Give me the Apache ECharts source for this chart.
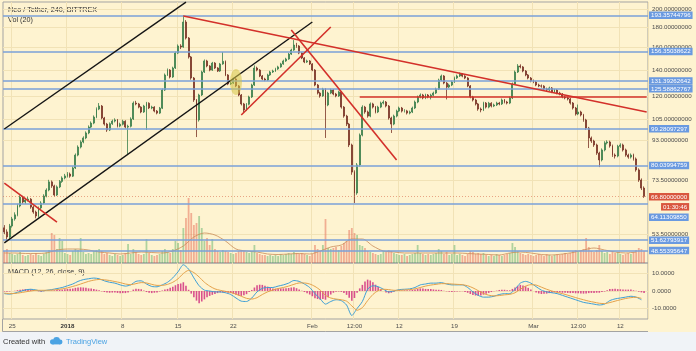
<!DOCTYPE html>
<html>
<head>
<meta charset="utf-8">
<script src="https://cdn.jsdelivr.net/npm/echarts@6/dist/echarts.min.js"></script>
<style>
  html, body { margin: 0; padding: 0; background: #fff; }
  #chart { width: 696px; height: 351px; }
</style>
</head>
<body>
<div id="chart"></div>
<script>
const opens = [
  55.5, 54.2, 52.6, 56.1, 58.5, 59.9, 63.1, 66.5, 64.6, 65.4,
  65.7, 62.7, 60.9, 59.5, 62.4, 64.2, 66.9, 69.3, 72.7, 71.0,
  67.3, 70.6, 72.9, 74.4, 75.3, 76.1, 75.2, 78.9, 85.1, 89.2,
  91.9, 94.1, 96.9, 100.3, 102.7, 106.4, 111.5, 113.5, 105.8, 102.1,
  98.6, 102.3, 103.9, 104.6, 100.9, 102.0, 103.8, 100.3, 100.8, 105.2,
  115.5, 114.9, 112.8, 109.6, 113.5, 115.4, 112.2, 112.8, 110.2, 108.9,
  112.1, 124.7, 136.2, 140.2, 134.6, 141.9, 154.9, 161.5, 160.5, 185.9,
  169.2, 151.4, 133.8, 117.6, 104.6, 121.1, 138.6, 147.9, 143.6, 140.2,
  146.1, 141.9, 139.4, 145.3, 147.6, 136.2, 129.2, 129.9, 133.0, 127.7,
  121.1, 114.9, 110.9, 114.7, 119.7, 128.4, 141.9, 140.2, 135.4, 133.0,
  132.2, 136.2, 138.6, 139.4, 141.1, 142.8, 145.3, 147.9, 149.6, 154.0,
  157.7, 162.4, 161.5, 154.9, 150.5, 147.0, 147.9, 145.3, 140.2, 128.4,
  122.5, 120.4, 125.4, 114.2, 122.5, 124.7, 121.8, 120.4, 123.3, 112.8,
  107.0, 102.1, 90.3, 77.0, 68.1, 80.3, 95.7, 112.8, 109.6, 107.0,
  114.9, 112.8, 109.6, 112.8, 115.5, 116.2, 113.5, 105.8, 102.1, 107.0,
  110.2, 112.2, 110.2, 110.3, 108.9, 109.6, 112.2, 116.2, 119.7, 121.1,
  119.0, 121.1, 119.7, 121.0, 122.5, 125.4, 132.2, 135.4, 129.9, 126.9,
  128.4, 130.7, 133.8, 135.4, 137.0, 135.3, 133.8, 127.7, 119.7, 117.6,
  114.9, 111.5, 110.9, 115.5, 112.8, 115.4, 113.5, 114.2, 115.5, 114.9,
  117.6, 116.2, 115.5, 119.0, 129.2, 138.6, 143.6, 142.8, 139.4, 136.2,
  133.8, 131.5, 130.7, 128.4, 127.7, 127.6, 125.4, 124.7, 126.2, 123.3,
  124.7, 122.5, 121.8, 119.7, 119.0, 118.3, 115.5, 112.2, 108.3, 109.6,
  107.7, 104.6, 99.7, 94.1, 92.4, 90.3, 86.1, 82.7, 87.7, 91.4,
  91.9, 89.8, 85.1, 84.6, 89.6, 90.3, 87.7, 85.1, 84.1, 85.1,
  83.2, 78.0, 73.5, 70.1
];
const closes = [
  54.2, 52.6, 56.1, 58.5, 59.9, 63.1, 66.5, 64.6, 65.4, 65.7,
  62.7, 60.9, 59.5, 62.4, 64.2, 66.9, 69.3, 72.7, 71.0, 67.3,
  70.6, 72.9, 74.4, 75.3, 76.1, 75.2, 78.9, 85.1, 89.2, 91.9,
  94.1, 96.9, 100.3, 102.7, 106.4, 111.5, 113.5, 105.8, 102.1, 98.6,
  102.3, 103.9, 104.6, 100.9, 102.0, 103.8, 100.3, 100.8, 105.2, 115.5,
  114.9, 112.8, 109.6, 113.5, 115.4, 112.2, 112.8, 110.2, 108.9, 112.1,
  124.7, 136.2, 140.2, 134.6, 141.9, 154.9, 161.5, 160.5, 185.9, 169.2,
  151.4, 133.8, 117.6, 104.6, 121.1, 138.6, 147.9, 143.6, 140.2, 146.1,
  141.9, 139.4, 145.3, 147.6, 136.2, 129.2, 129.9, 133.0, 127.7, 121.1,
  114.9, 110.9, 114.7, 119.7, 128.4, 141.9, 140.2, 135.4, 133.0, 132.2,
  136.2, 138.6, 139.4, 141.1, 142.8, 145.3, 147.9, 149.6, 154.0, 157.7,
  162.4, 161.5, 154.9, 150.5, 147.0, 147.9, 145.3, 140.2, 128.4, 122.5,
  120.4, 125.4, 114.2, 122.5, 124.7, 121.8, 120.4, 123.3, 112.8, 107.0,
  102.1, 90.3, 77.0, 68.1, 80.3, 95.7, 112.8, 109.6, 107.0, 114.9,
  112.8, 109.6, 112.8, 115.5, 116.2, 113.5, 105.8, 102.1, 107.0, 110.2,
  112.2, 110.2, 110.3, 108.9, 109.6, 112.2, 116.2, 119.7, 121.1, 119.0,
  121.1, 119.7, 121.0, 122.5, 125.4, 132.2, 135.4, 129.9, 126.9, 128.4,
  130.7, 133.8, 135.4, 137.0, 135.3, 133.8, 127.7, 119.7, 117.6, 114.9,
  111.5, 110.9, 115.5, 112.8, 115.4, 113.5, 114.2, 115.5, 114.9, 117.6,
  116.2, 115.5, 119.0, 129.2, 138.6, 143.6, 142.8, 139.4, 136.2, 133.8,
  131.5, 130.7, 128.4, 127.7, 127.6, 125.4, 124.7, 126.2, 123.3, 124.7,
  122.5, 121.8, 119.7, 119.0, 118.3, 115.5, 112.2, 108.3, 109.6, 107.7,
  104.6, 99.7, 94.1, 92.4, 90.3, 86.1, 82.7, 87.7, 91.4, 91.9,
  89.8, 85.1, 84.6, 89.6, 90.3, 87.7, 85.1, 84.1, 85.1, 83.2,
  78.0, 73.5, 70.1, 66.8
];
const highs = [
  56.4, 55.0, 56.8, 59.2, 60.8, 63.9, 67.2, 67.0, 66.2, 66.6,
  66.1, 63.2, 61.4, 62.9, 64.9, 67.6, 70.0, 73.6, 73.3, 71.5,
  71.2, 73.5, 75.1, 76.2, 77.0, 76.8, 79.6, 85.9, 90.1, 92.8,
  95.0, 97.8, 101.3, 103.7, 107.4, 112.6, 115.5, 114.2, 106.5, 102.8,
  103.1, 104.8, 105.6, 105.2, 102.9, 104.7, 104.4, 101.7, 106.2, 116.6,
  117.0, 115.6, 113.4, 114.3, 116.3, 116.0, 113.7, 113.4, 110.9, 112.9,
  125.8, 137.4, 141.5, 141.0, 143.0, 156.3, 163.0, 163.2, 193.4, 188.0,
  170.2, 152.3, 134.6, 118.3, 122.0, 139.7, 149.2, 148.9, 144.3, 147.1,
  146.9, 142.6, 146.2, 155.9, 148.3, 136.9, 131.0, 134.0, 133.7, 128.4,
  121.8, 115.6, 115.5, 120.6, 129.4, 144.1, 143.0, 141.0, 136.2, 134.0,
  137.2, 139.6, 140.5, 142.1, 143.8, 146.3, 149.0, 150.7, 155.1, 158.9,
  167.2, 164.5, 162.3, 155.6, 151.3, 149.0, 148.7, 146.0, 141.0, 129.2,
  123.4, 126.3, 126.1, 123.4, 125.7, 125.4, 122.6, 124.2, 124.0, 113.5,
  107.8, 102.8, 91.0, 77.8, 81.2, 96.6, 114.0, 113.6, 110.5, 115.9,
  115.7, 113.5, 113.7, 116.5, 117.4, 116.9, 114.2, 106.6, 107.9, 111.1,
  113.1, 112.9, 111.4, 111.0, 110.5, 113.1, 117.2, 120.7, 122.2, 121.9,
  122.0, 121.8, 122.0, 123.5, 126.4, 133.3, 136.5, 136.1, 130.7, 129.4,
  131.7, 134.9, 136.5, 138.2, 137.8, 136.1, 134.5, 128.4, 120.5, 118.4,
  115.6, 112.5, 116.4, 116.2, 116.3, 116.1, 115.1, 116.4, 116.3, 118.6,
  118.3, 117.0, 120.0, 130.3, 139.8, 145.2, 145.0, 143.6, 140.2, 137.0,
  134.6, 132.6, 131.5, 129.4, 128.8, 128.3, 126.4, 127.2, 126.9, 125.6,
  125.4, 123.4, 122.5, 120.7, 119.9, 119.0, 116.2, 112.9, 114.5, 110.4,
  108.4, 105.3, 100.4, 94.9, 93.1, 91.0, 86.8, 88.5, 92.3, 92.8,
  92.6, 90.5, 85.9, 90.4, 91.2, 91.0, 88.4, 85.8, 85.9, 85.8,
  83.9, 78.7, 74.2, 70.8
];
const lows = [
  53.5, 51.5, 52.2, 55.6, 57.9, 59.4, 62.6, 64.0, 63.9, 64.8,
  62.1, 60.3, 58.7, 59.0, 61.9, 63.8, 66.4, 68.8, 70.2, 66.7,
  66.9, 70.1, 72.3, 73.8, 74.6, 74.5, 74.8, 78.4, 84.5, 88.5,
  91.2, 93.4, 96.2, 99.6, 102.0, 105.7, 110.8, 105.0, 101.2, 97.5,
  98.0, 101.6, 103.1, 100.1, 100.2, 101.3, 99.5, 85.1, 100.1, 104.6,
  114.0, 112.0, 108.8, 109.0, 98.6, 111.5, 111.4, 109.4, 108.1, 108.3,
  111.5, 124.0, 135.4, 133.5, 133.9, 141.1, 154.0, 158.6, 159.8, 167.8,
  150.0, 132.5, 116.3, 94.6, 103.6, 120.4, 137.8, 142.5, 139.2, 139.5,
  141.0, 138.6, 138.7, 144.6, 135.3, 128.3, 128.5, 129.2, 126.8, 120.2,
  113.9, 108.9, 110.2, 114.0, 119.0, 127.7, 139.2, 134.5, 132.1, 131.3,
  131.5, 135.5, 137.8, 138.7, 140.3, 142.1, 144.6, 147.1, 148.9, 153.2,
  156.9, 159.8, 153.9, 149.5, 146.0, 146.2, 144.4, 139.3, 127.5, 121.5,
  119.2, 119.8, 94.1, 113.4, 121.7, 120.9, 119.5, 119.7, 111.8, 106.0,
  100.9, 89.2, 75.8, 64.2, 67.4, 79.5, 95.0, 108.5, 106.0, 106.3,
  111.9, 108.7, 108.9, 112.1, 114.6, 112.6, 104.8, 96.9, 101.4, 106.2,
  109.5, 109.3, 109.3, 108.0, 108.1, 108.9, 111.5, 115.4, 118.8, 118.1,
  118.2, 118.8, 118.0, 120.2, 121.8, 124.7, 131.4, 129.0, 118.0, 126.1,
  127.6, 130.0, 133.0, 134.6, 134.4, 132.9, 126.8, 118.8, 116.6, 113.9,
  110.4, 109.4, 110.2, 111.9, 112.0, 112.6, 112.8, 113.5, 114.0, 114.2,
  115.3, 114.6, 114.8, 118.3, 128.5, 137.8, 141.6, 138.4, 135.2, 132.8,
  130.5, 129.8, 127.5, 126.8, 126.4, 124.5, 123.8, 124.0, 122.4, 122.6,
  121.6, 120.9, 118.8, 118.1, 117.3, 114.5, 111.2, 107.3, 107.6, 106.8,
  103.5, 98.6, 88.7, 91.4, 89.3, 85.2, 79.3, 82.0, 87.0, 90.6,
  88.9, 84.2, 83.4, 84.0, 88.8, 86.9, 84.3, 83.3, 83.4, 82.4,
  77.2, 72.7, 69.3, 66.2
];
// volume, relative units (no scale shown on the shot)
const volumes = [
  12, 14, 10, 9, 8, 9, 11, 8, 7, 8,
  9, 8, 10, 8, 7, 9, 11, 13, 30, 28,
  14, 25, 22, 10, 9, 8, 12, 14, 13, 25,
  11, 9, 10, 9, 12, 13, 14, 12, 9, 10,
  8, 7, 9, 8, 7, 8, 10, 19, 9, 14,
  11, 9, 8, 9, 24, 10, 8, 7, 8, 9,
  12, 14, 11, 10, 14, 22, 20, 13, 35, 45,
  65, 50, 38, 40, 47, 35, 22, 25, 18, 24,
  14, 12, 11, 13, 12, 11, 10, 9, 10, 12,
  13, 12, 11, 10, 12, 18, 10, 9, 8, 8,
  7, 8, 7, 8, 7, 9, 8, 9, 10, 9,
  11, 10, 9, 10, 9, 8, 7, 9, 18, 14,
  12, 18, 44, 15, 14, 15, 16, 13, 17, 20,
  22, 33, 35, 30, 28, 18, 17, 15, 12, 11,
  10, 9, 8, 9, 12, 11, 13, 12, 10, 9,
  8, 8, 9, 7, 8, 9, 10, 18, 10, 9,
  8, 9, 8, 9, 10, 14, 12, 9, 11, 8,
  9, 18, 8, 9, 8, 7, 9, 12, 11, 9,
  10, 9, 10, 8, 7, 8, 7, 9, 8, 7,
  8, 9, 10, 20, 16, 12, 10, 9, 8, 9,
  8, 7, 8, 9, 8, 7, 9, 8, 7, 8,
  9, 8, 9, 10, 9, 10, 12, 13, 11, 12,
  14, 25, 16, 12, 11, 13, 18, 12, 10, 11,
  9, 12, 10, 11, 9, 8, 9, 10, 9, 11,
  13, 15, 14, 12
];
// Vol(20) average, one reading every 4th candle
const volMa = [
  10, 10, 9.5, 9.5, 10, 13, 14, 14, 13, 11,
  10, 9, 10, 11, 10.5, 10, 12, 17, 26, 30,
  28, 22, 14, 12, 11, 9, 8.5, 9, 9.5, 9,
  12, 16, 18, 24, 24, 17, 12, 11, 10, 10,
  10, 10, 10, 10, 9.5, 9, 8.5, 8, 10, 11,
  10, 8.5, 8, 9, 10.5, 13, 15, 13, 11, 10,
  11
];
// MACD(12,26,9): line and signal read every 2nd candle, histogram every candle
const macdLine = [
  -1.5, -1.8, -1.2, -0.3, 0.6, 1.0, 0.6, 0.0, 0.4, 0.8,
  1.4, 2.0, 3.0, 4.0, 5.5, 6.5, 7.0, 7.4, 7.0, 5.8,
  5.0, 4.5, 3.5, 2.8, 3.5, 5.5, 5.8, 4.0, 2.6, 2.4,
  3.5, 5.0, 7.5, 11.0, 15.0, 12.5, 7.5, 3.0, 0.5, 0.0,
  -0.5, -0.5, -1.0, -2.0, -4.0, -5.8, -6.0, -4.0, -0.5, 1.5,
  2.0, 2.0, 2.8, 3.5, 4.5, 6.0, 5.5, 4.0, 2.0, -1.5,
  -4.5, -7.5, -6.0, -5.0, -5.5, -8.0, -14.0, -10.0, -6.0, 1.0,
  3.0, 2.5, 1.0, -0.5, 0.0, 0.8, 1.0, 1.2, 2.0, 3.5,
  4.0, 4.5, 4.5, 4.8, 4.0, 3.5, 3.5, 3.5, 2.0, -0.5,
  -2.5, -3.5, -3.5, -3.0, -2.0, -1.5, -1.5, 1.0, 4.5, 5.5,
  4.5, 2.5, 0.5, -0.5, -1.0, -1.5, -2.5, -3.5, -4.5, -5.5,
  -6.5, -7.0, -7.5, -8.0, -7.5, -5.5, -4.5, -4.0, -3.5, -3.0,
  -3.5, -5.0
];
const signalLine = [
  -1.2, -1.5, -1.4, -1.0, -0.5, 0.0, 0.4, 0.4, 0.4, 0.5,
  0.8, 1.2, 1.8, 2.6, 3.5, 4.5, 5.5, 6.2, 6.6, 6.4,
  6.0, 5.4, 4.8, 4.0, 3.6, 4.2, 4.8, 4.6, 3.8, 3.2,
  3.2, 3.8, 5.0, 7.0, 10.0, 11.8, 10.5, 8.0, 5.0, 2.8,
  1.2, 0.4, -0.2, -0.8, -1.8, -3.0, -4.2, -4.6, -3.8, -2.0,
  -0.5, 0.6, 1.4, 2.0, 2.8, 3.8, 4.6, 4.6, 4.0, 2.6,
  0.5, -2.5, -4.0, -4.6, -5.0, -5.8, -8.5, -11.0, -9.5, -5.5,
  -2.0, 0.2, 1.0, 0.8, 0.4, 0.4, 0.6, 0.8, 1.2, 2.0,
  2.8, 3.4, 3.8, 4.2, 4.2, 4.0, 3.8, 3.6, 3.0, 1.8,
  0.2, -1.4, -2.4, -2.8, -2.6, -2.2, -1.9, -1.0, 1.0, 2.8,
  3.6, 3.4, 2.2, 1.0, 0.0, -0.8, -1.5, -2.4, -3.3, -4.2,
  -5.0, -5.8, -6.4, -7.0, -7.2, -6.6, -5.8, -5.0, -4.3, -3.8,
  -3.6, -4.2
];
const macdHist = [
  -0.3, -0.4, -0.3, 0.0, 0.2, 0.5, 0.7, 0.9, 1.1, 1.1,
  1.0, 0.6, 0.2, -0.2, -0.4, -0.2, 0.0, 0.2, 0.3, 0.4,
  0.6, 0.7, 0.8, 1.0, 1.2, 1.3, 1.4, 1.8, 2.0, 2.1,
  2.0, 1.8, 1.5, 1.4, 1.2, 0.8, 0.4, -0.2, -0.6, -0.9,
  -1.0, -0.9, -0.9, -1.1, -1.3, -1.2, -1.2, -0.8, -0.1, 0.8,
  1.3, 1.2, 1.0, 0.3, -0.6, -1.0, -1.2, -1.0, -0.8, -0.3,
  0.3, 0.8, 1.2, 1.8, 2.5, 3.3, 4.0, 4.3, 5.0, 3.0,
  0.7, -1.5, -3.5, -5.5, -7.0, -6.0, -4.8, -3.6, -2.8, -2.2,
  -1.7, -1.2, -0.9, -0.8, -0.8, -1.0, -1.2, -1.6, -2.2, -2.6,
  -2.8, -2.4, -1.8, -0.6, 0.6, 2.0, 3.3, 3.6, 3.5, 3.0,
  2.5, 1.9, 1.4, 1.3, 1.4, 1.5, 1.5, 1.6, 1.7, 2.0,
  2.2, 1.6, 0.9, 0.2, -0.6, -1.3, -2.0, -3.0, -4.1, -4.6,
  -5.0, -4.6, -5.0, -3.5, -2.0, -1.0, -0.4, -0.3, -0.5, -1.2,
  -2.2, -3.8, -5.5, -4.0, -1.0, 1.5, 3.5, 5.5, 6.5, 6.0,
  5.0, 3.6, 2.3, 1.0, 0.0, -0.8, -1.3, -1.0, -0.4, 0.0,
  0.4, 0.3, 0.4, 0.5, 0.4, 0.6, 0.8, 1.2, 1.5, 1.4,
  1.2, 1.1, 1.1, 0.9, 0.7, 0.7, 0.6, 0.2, -0.2, -0.4,
  -0.5, -0.4, -0.3, -0.2, -0.1, -0.5, -1.0, -1.7, -2.3, -2.6,
  -2.7, -2.5, -2.1, -1.6, -1.1, -0.6, -0.2, 0.2, 0.6, 0.7,
  0.7, 0.5, 0.4, 1.2, 2.0, 2.8, 3.5, 3.2, 2.7, 1.8,
  0.9, 0.0, -0.9, -1.4, -1.7, -1.6, -1.5, -1.2, -1.0, -0.8,
  -0.7, -0.9, -1.0, -1.0, -1.1, -1.2, -1.2, -1.3, -1.3, -1.4,
  -1.5, -1.4, -1.2, -1.1, -1.1, -1.0, -1.0, -0.6, -0.3, 0.4,
  1.1, 1.2, 1.3, 1.1, 1.0, 0.9, 0.8, 0.8, 0.8, 0.4,
  0.1, -0.4, -0.8, -1.2
];

const priceLevels = [193.35744796, 156.35038622, 131.39262642, 125.58862767, 99.28097297,
  80.03994759, 64.11309850, 51.62793917, 48.55395647];
const priceTicks = [200, 180, 160, 140, 120, 105, 93, 73.5, 53.5];
const macdTicks = [-10, 0, 10];
const timeTickIndex = [3, 24, 45, 66, 87, 117, 133, 150, 171, 201, 218, 234];
const timeTickLabels = ['25', '2018', '8', '15', '22', 'Feb', '12:00', '12', '19', 'Mar', '12:00', '12'];
const lastPrice = 66.8;
const countdown = '01:30:46';
// drawings: [candle index, price] -> [candle index, price]
const blackLines = [
  [[-0.4, 99.2], [69.4, 209.0]],
  [[-0.4, 50.8], [117.2, 185.9]]
];
const redLines = [
  [[-0.4, 72.2], [20.4, 57.4]],
  [[67.9, 192.6], [244.4, 109.6]],
  [[135.1, 120.2], [244.4, 120.2]],
  [[108.5, 177.4], [149.1, 82.7]],
  [[90.3, 107.7], [123.7, 180.5]]
];
const highlight = [88, 130.7];

const slotCount = 245;
const categories = [];
for (let i = 0; i < slotCount; i++) {
  categories.push(new Date(Date.UTC(2017, 11, 24) + i * 8 * 3600 * 1000).toISOString().slice(0, 16));
}
const tickText = {};
timeTickIndex.forEach((idx, k) => { tickText[idx] = timeTickLabels[k]; });

const upColor = '#3b7f4b';
const downColor = '#7a3326';
const gridLine = '#f1e2b6';
const frame = '#a3a3a3';
const font = '"Liberation Sans", Arial, sans-serif';
const levelBlue = '#7aa0d8';
const boxBlue = '#6a9ae0';
const boxRed = '#d9573f';

const candles = closes.map((c, i) => [opens[i], c, lows[i], highs[i]]);

const boxStyle = (bg) => ({ backgroundColor: bg, color: '#fff', fontSize: 6.2, fontFamily: font,
  padding: [1, 2, 0.5, 2], lineHeight: 8 });

function boxLabel(text, bg, shift) {
  return {
    show: true, position: 'end', distance: 1,
    formatter: shift ? '{g| }\n{t|' + text + '}' : '{t|' + text + '}',
    rich: { t: boxStyle(bg), g: { height: shift * 2, lineHeight: shift * 2, fontSize: 1 } }
  };
}

const markLines = priceLevels.map(v => ({
  yAxis: v,
  lineStyle: { color: levelBlue, width: 1.5, type: 'solid' },
  label: boxLabel(v.toFixed(8), boxBlue, v === 64.11309850 ? 14 : 0)
}));
// last price box with the bar countdown under it, right-aligned
markLines.push({
  yAxis: lastPrice,
  lineStyle: { color: 'rgba(214,100,70,0.55)', width: 1, type: [1, 2] },
  label: {
    show: true, position: 'end', distance: 1,
    formatter: '{g| }\n{t|' + lastPrice.toFixed(8) + '}\n{c|' + countdown + '}',
    rich: {
      g: { height: 11, lineHeight: 11, fontSize: 1 },
      t: Object.assign(boxStyle(boxRed), { lineHeight: 10 }),
      c: Object.assign(boxStyle(boxRed), { lineHeight: 10, align: 'right' })
    }
  }
});
blackLines.forEach(l => markLines.push([
  { coord: l[0], lineStyle: { color: '#151515', width: 1.4, type: 'solid' }, label: { show: false } },
  { coord: l[1] }
]));
redLines.forEach(l => markLines.push([
  { coord: l[0], lineStyle: { color: '#d3302a', width: 1.6, type: 'solid' }, label: { show: false } },
  { coord: l[1] }
]));

const hiddenX = (gridIndex, split) => ({
  type: 'category', gridIndex: gridIndex, data: categories, boundaryGap: true,
  axisLine: { show: false }, axisTick: { show: false }, axisLabel: { show: false },
  splitLine: { show: split, interval: (i) => tickText[i] !== undefined, lineStyle: { color: gridLine } }
});

const chart = echarts.init(document.getElementById('chart'));
chart.setOption({
  animation: false,
  backgroundColor: '#fef3d0',
  grid: [
    { left: 3, right: 48, top: 2, height: 261, show: true, borderColor: frame, borderWidth: 1 },
    { left: 3, right: 48, top: 163, height: 100 },
    { left: 3, right: 48, top: 263, height: 56, show: true, borderColor: frame, borderWidth: 1 }
  ],
  xAxis: [
    hiddenX(0, true),
    hiddenX(1, false),
    {
      type: 'category', gridIndex: 2, data: categories, boundaryGap: true,
      axisLine: { show: false }, axisTick: { show: false },
      splitLine: { show: true, interval: (i) => tickText[i] !== undefined, lineStyle: { color: gridLine } },
      axisLabel: {
        interval: (i) => tickText[i] !== undefined,
        formatter: (v, i) => tickText[i] === '2018' ? '{b|2018}' : tickText[i],
        color: '#4d4d4d', fontSize: 6.2, fontFamily: font, margin: 4,
        rich: { b: { fontWeight: 'bold', fontSize: 6.2, fontFamily: font, color: '#333' } }
      }
    }
  ],
  yAxis: [
    {
      type: 'log', gridIndex: 0, position: 'right', min: 45.15, max: 209.1, logBase: 10,
      axisLine: { show: false },
      axisTick: { show: false, customValues: priceTicks },
      axisLabel: { customValues: priceTicks, formatter: (v) => Number(v).toFixed(8),
        color: '#4d4d4d', fontSize: 6.2, fontFamily: font, margin: 4 },
      splitLine: { show: true, lineStyle: { color: gridLine } }
    },
    { type: 'value', gridIndex: 1, min: 0, max: 100, show: false },
    {
      type: 'value', gridIndex: 2, position: 'right', min: -16, max: 16,
      axisLine: { show: false },
      axisTick: { show: false, customValues: macdTicks },
      axisLabel: { customValues: macdTicks, formatter: (v) => Number(v).toFixed(4),
        color: '#4d4d4d', fontSize: 6.2, fontFamily: font, margin: 4 },
      splitLine: { show: true, lineStyle: { color: gridLine } }
    }
  ],
  series: [
    {
      name: 'Volume', type: 'bar', xAxisIndex: 1, yAxisIndex: 1, barWidth: 1.8, z: 1,
      data: volumes.map((v, i) => ({
        value: v,
        itemStyle: { color: closes[i] >= opens[i] ? 'rgba(80,170,95,0.45)' : 'rgba(226,90,70,0.45)' }
      }))
    },
    {
      name: 'Vol MA', type: 'line', xAxisIndex: 1, yAxisIndex: 1, z: 2, showSymbol: false, smooth: 0.3,
      data: volMa.map((v, k) => [4 * k, v]),
      lineStyle: { color: '#c98b58', width: 0.8 }
    },
    {
      name: 'NEO/USDT', type: 'candlestick', xAxisIndex: 0, yAxisIndex: 0, z: 3,
      barWidth: 1.4, data: candles,
      itemStyle: { color: upColor, color0: downColor, borderColor: upColor, borderColor0: downColor, borderWidth: 0.8 },
      markPoint: {
        silent: true, animation: false,
        data: [{ coord: highlight, symbol: 'circle', symbolSize: [12, 26],
          itemStyle: { color: 'rgba(214,196,70,0.55)' }, label: { show: false } }]
      },
      markLine: {
        silent: true, animation: false, symbol: ['none', 'none'], precision: 8,
        label: { show: false },
        data: markLines
      }
    },
    {
      name: 'Histogram', type: 'bar', xAxisIndex: 2, yAxisIndex: 2, barWidth: 1.6,
      data: macdHist, itemStyle: { color: '#d9508d' }
    },
    {
      name: 'MACD', type: 'line', xAxisIndex: 2, yAxisIndex: 2, showSymbol: false, smooth: 0.25,
      data: macdLine.map((v, k) => [2 * k, v]), lineStyle: { color: '#3d9fd6', width: 1 }
    },
    {
      name: 'Signal', type: 'line', xAxisIndex: 2, yAxisIndex: 2, showSymbol: false, smooth: 0.25,
      data: signalLine.map((v, k) => [2 * k, v]), lineStyle: { color: '#e5a24a', width: 1 }
    }
  ],
  graphic: [
    { type: 'rect', shape: { x: 0, y: 332, width: 696, height: 19 }, style: { fill: '#f0f3f7' } },
    { type: 'line', shape: { x1: 2.5, y1: 319, x2: 2.5, y2: 331.5 }, style: { stroke: frame, lineWidth: 1 } },
    { type: 'line', shape: { x1: 2.5, y1: 331.5, x2: 648, y2: 331.5 }, style: { stroke: frame, lineWidth: 1 } },
    { type: 'text', left: 8, top: 6.5, style: { text: 'Neo / Tether, 240, BITTREX', fill: '#333', font: '7.2px ' + font } },
    { type: 'text', left: 8, top: 17, style: { text: 'Vol (20)', fill: '#333', font: '7.2px ' + font } },
    { type: 'text', left: 8, top: 268.5, style: { text: 'MACD (12, 26, close, 9)', fill: '#333', font: '7.2px ' + font } },
    { type: 'text', left: 3, top: 337.5, style: { text: 'Created with', fill: '#333', font: '7.5px ' + font } },
    {
      type: 'group', left: 50, top: 337,
      children: [
        { type: 'circle', shape: { cx: 3, cy: 5, r: 2.6 }, style: { fill: '#4ba3e3' } },
        { type: 'circle', shape: { cx: 7, cy: 3.6, r: 3.4 }, style: { fill: '#4ba3e3' } },
        { type: 'circle', shape: { cx: 10.5, cy: 5.2, r: 2.4 }, style: { fill: '#4ba3e3' } },
        { type: 'rect', shape: { x: 3, y: 5, width: 7.5, height: 2.6 }, style: { fill: '#4ba3e3' } }
      ]
    },
    { type: 'text', left: 66, top: 337.5, style: { text: 'TradingView', fill: '#4ba3e3', font: '7.5px ' + font } }
  ]
});
</script>
</body>
</html>
